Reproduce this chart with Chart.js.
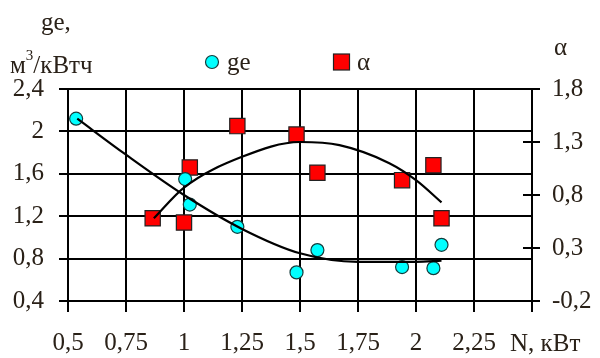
<!DOCTYPE html>
<html>
<head>
<meta charset="utf-8">
<script src="https://cdn.jsdelivr.net/npm/chart.js@4/dist/chart.umd.min.js"></script>
<style>
  html, body { margin: 0; padding: 0; background: #fff; }
  #wrap { width: 600px; height: 358px; position: relative; }
</style>
</head>
<body>
<div id="wrap"><canvas id="c" width="600" height="358"></canvas></div>
<script>
// Measured points: specific fuel consumption ge and excess-air ratio α vs. power N
const geN        = [0.535, 1.005, 1.025, 1.23, 1.485, 1.575, 1.94, 2.075, 2.11];
const geValues   = [2.12, 1.55, 1.31, 1.10, 0.67, 0.88, 0.72, 0.71, 0.93];
const alphaN     = [0.865, 1.0, 1.025, 1.23, 1.485, 1.575, 1.94, 2.075, 2.11];
const alphaValues= [0.58, 0.54, 1.06, 1.45, 1.37, 1.01, 0.94, 1.08, 0.58];

// Trend curves
const geTrendN    = [0.54, 0.75, 1.0, 1.25, 1.5, 1.75, 2.0, 2.11];
const geTrend     = [2.12, 1.78, 1.40, 1.08, 0.85, 0.77, 0.77, 0.78];
const alphaTrendN = [0.87, 1.0, 1.25, 1.5, 1.67, 1.885, 2.0, 2.11];
const alphaTrend  = [0.58, 0.87, 1.16, 1.30, 1.27, 1.10, 0.94, 0.73];

// Tick labels
const nTickLabels     = ['0,5', '0,75', '1', '1,25', '1,5', '1,75', '2', '2,25'];
const geTickLabels    = ['0,4', '0,8', '1,2', '1,6', '2', '2,4'];
const alphaTickLabels = ['-0,2', '0,3', '0,8', '1,3', '1,8'];

const FONT = '"Liberation Serif", "Times New Roman", serif';
const TEXT = '#2a2118';
const CYAN = '#00ffff';
const RED = '#ff0000';

const pts = (xs, ys) => xs.map((x, i) => ({ x: x, y: ys[i] }));

// Axis titles, legend and the inner half of the right-axis tick marks
const decorations = {
  id: 'decorations',
  afterDatasetsDraw(chart) {
    const ctx = chart.ctx;
    const yR = chart.scales.yAlpha;
    const area = chart.chartArea;
    ctx.save();
    ctx.strokeStyle = '#000';
    ctx.lineWidth = 2;
    yR.ticks.forEach(t => {
      const y = Math.round(yR.getPixelForValue(t.value));
      ctx.beginPath();
      ctx.moveTo(area.right - 9, y);
      ctx.lineTo(area.right, y);
      ctx.stroke();
    });

    ctx.fillStyle = TEXT;
    ctx.textBaseline = 'alphabetic';
    ctx.textAlign = 'left';
    ctx.font = '25px ' + FONT;
    ctx.fillText('ge,', 41, 30);
    // м³/кВтч
    ctx.fillText('м', 10, 73);
    const mw = ctx.measureText('м').width;
    ctx.font = '15px ' + FONT;
    ctx.fillText('3', 10 + mw, 60);
    const sw = ctx.measureText('3').width;
    ctx.font = '25px ' + FONT;
    ctx.fillText('/кВтч', 10 + mw + sw, 73);

    ctx.fillText('α', 554, 55);
    ctx.fillText('N, кВт', 510, 351);

    // legend
    ctx.beginPath();
    ctx.arc(212, 62, 6.5, 0, Math.PI * 2);
    ctx.fillStyle = CYAN;
    ctx.fill();
    ctx.lineWidth = 1.2;
    ctx.strokeStyle = '#143c3c';
    ctx.stroke();
    ctx.fillStyle = RED;
    ctx.fillRect(333.5, 54, 16, 16);
    ctx.strokeStyle = '#222';
    ctx.strokeRect(333.5, 54, 16, 16);
    ctx.fillStyle = TEXT;
    ctx.fillText('ge', 227, 70);
    ctx.fillText('α', 357, 70);
    ctx.restore();
  }
};

new Chart(document.getElementById('c'), {
  type: 'scatter',
  data: {
    datasets: [
      {
        label: 'ge trend', data: pts(geTrendN, geTrend), yAxisID: 'yGe',
        showLine: true, pointRadius: 0, borderColor: '#000', borderWidth: 2.2,
        cubicInterpolationMode: 'monotone', order: 0
      },
      {
        label: 'α trend', data: pts(alphaTrendN, alphaTrend), yAxisID: 'yAlpha',
        showLine: true, pointRadius: 0, borderColor: '#000', borderWidth: 2.2,
        cubicInterpolationMode: 'monotone', order: 0
      },
      {
        label: 'ge', data: pts(geN, geValues), yAxisID: 'yGe',
        pointStyle: 'circle', pointRadius: 6.5, backgroundColor: CYAN,
        borderColor: '#143c3c', borderWidth: 1.2, order: 1
      },
      {
        label: 'α', data: pts(alphaN, alphaValues), yAxisID: 'yAlpha',
        pointStyle: 'rect', pointRadius: 10.8, backgroundColor: RED,
        borderColor: '#222', borderWidth: 1.2, order: 1
      }
    ]
  },
  options: {
    responsive: false,
    animation: false,
    layout: { padding: { top: 89, left: 0, right: 0, bottom: 0 } },
    plugins: { legend: { display: false }, tooltip: { enabled: false } },
    scales: {
      x: {
        type: 'linear', min: 0.5, max: 2.5,
        afterBuildTicks: s => { s.ticks = [0.5,0.75,1,1.25,1.5,1.75,2,2.25,2.5].map(v => ({ value: v })); },
        afterFit: s => { s.height = 57; },
        grid: { color: '#000', lineWidth: 2, tickLength: 11, tickColor: '#000' },
        border: { display: false },
        ticks: {
          padding: 16, color: TEXT, maxRotation: 0, autoSkip: false,
          font: { family: FONT, size: 25 },
          callback: (v, i) => (i < nTickLabels.length ? nTickLabels[i] : '')
        }
      },
      yGe: {
        type: 'linear', position: 'left', min: 0.4, max: 2.4,
        afterBuildTicks: s => { s.ticks = [0.4,0.8,1.2,1.6,2.0,2.4].map(v => ({ value: v })); },
        afterFit: s => { s.width = 68; },
        grid: { color: '#000', lineWidth: 2, tickLength: 9 },
        border: { display: true, color: '#000', width: 2 },
        ticks: {
          padding: 15, color: TEXT, font: { family: FONT, size: 25 },
          callback: (v, i) => geTickLabels[i]
        }
      },
      yAlpha: {
        type: 'linear', position: 'right', min: -0.2, max: 1.8,
        afterBuildTicks: s => { s.ticks = [-0.2,0.3,0.8,1.3,1.8].map(v => ({ value: v })); },
        afterFit: s => { s.width = 68; },
        grid: { drawOnChartArea: false, color: '#000', lineWidth: 2, tickLength: 8 },
        border: { display: true, color: '#000', width: 2 },
        ticks: {
          padding: 12, color: TEXT, font: { family: FONT, size: 25 },
          callback: (v, i) => alphaTickLabels[i]
        }
      }
    }
  },
  plugins: [decorations]
});
</script>
</body>
</html>
